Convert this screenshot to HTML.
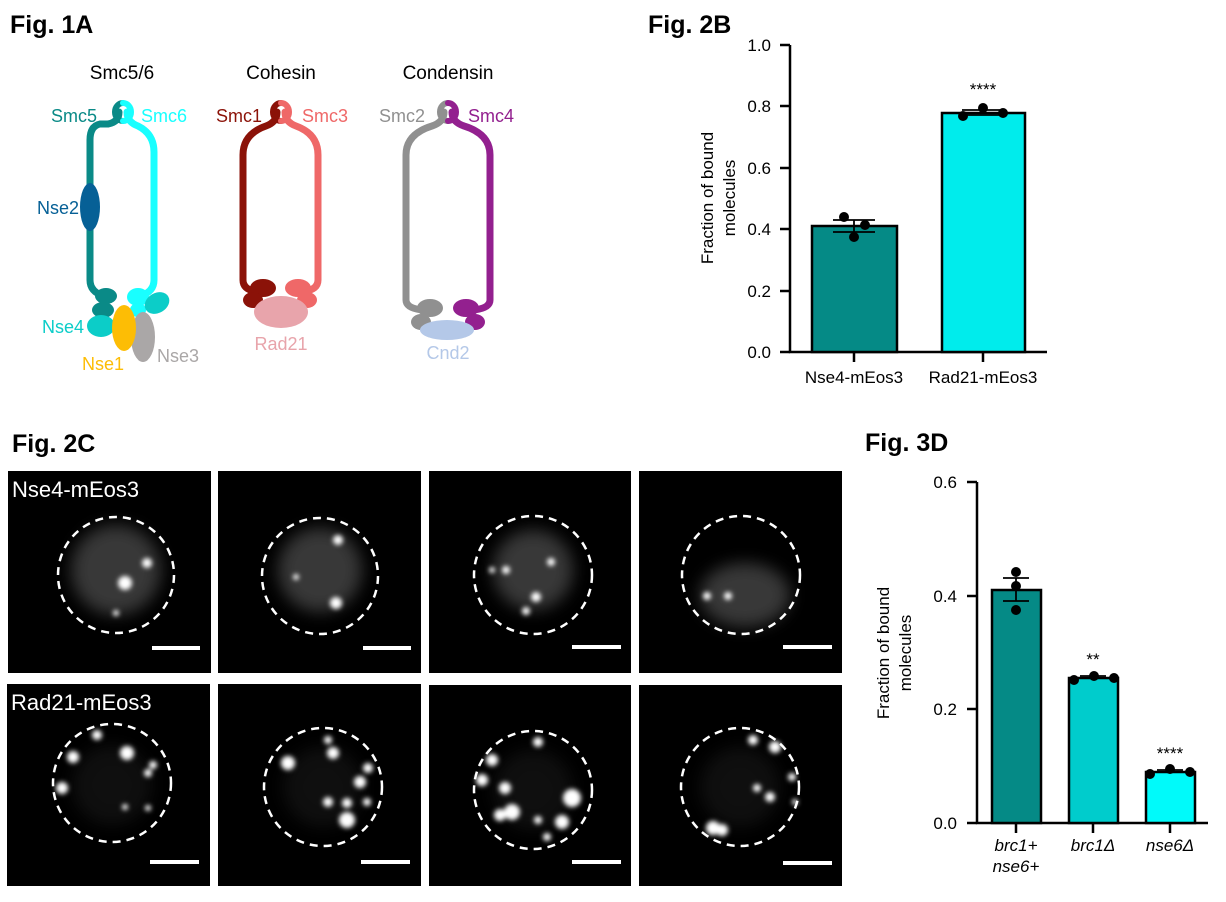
<!DOCTYPE html>
<html><head><meta charset="utf-8"><style>
html,body{margin:0;padding:0;background:#fff;}
svg{display:block;font-family:"Liberation Sans",Arial,sans-serif;}
</style></head><body>
<svg width="1226" height="902" viewBox="0 0 1226 902" xmlns="http://www.w3.org/2000/svg">
<defs>
<filter id="b1" x="-50%" y="-50%" width="200%" height="200%"><feGaussianBlur stdDeviation="2.5"/></filter>
<filter id="b2" x="-50%" y="-50%" width="200%" height="200%"><feGaussianBlur stdDeviation="8"/></filter>
</defs>
<g font-weight="bold" font-size="25" fill="#000">
<text x="10" y="33">Fig. 1A</text>
<text x="648" y="33">Fig. 2B</text>
<text x="12" y="452">Fig. 2C</text>
<text x="865" y="451">Fig. 3D</text>
</g>

<!-- Fig 1A -->
<g font-size="19" text-anchor="middle">
<text x="122" y="79">Smc5/6</text>
<text x="281" y="79">Cohesin</text>
<text x="448" y="79">Condensin</text>
</g>
<g fill="none" stroke-width="7" stroke-linecap="round">
<path d="M119 112 Q119 122 108 124 L100 124 Q90 126 90 140 L90 280 Q90 292 104 296" stroke="#0a8a87"/>
<path d="M127 112 Q127 122 138 126 Q154 134 154 152 L154 280 Q154 292 140 296" stroke="#19ffff"/>
<path d="M123 103 A8 9 0 0 0 123 121" stroke="#0a8a87" stroke-width="6"/>
<path d="M123 103 A8 9 0 0 1 123 121" stroke="#19ffff" stroke-width="6"/>
<path d="M277 112 Q277 122 266 126 Q243 134 243 155 L243 280 Q243 290 258 292" stroke="#8b1208"/>
<path d="M285 112 Q285 122 296 126 Q318 134 318 155 L318 280 Q318 290 302 292" stroke="#ef6868"/>
<path d="M281 103 A8 9 0 0 0 281 121" stroke="#8b1208" stroke-width="6"/>
<path d="M281 103 A8 9 0 0 1 281 121" stroke="#ef6868" stroke-width="6"/>
<path d="M444 112 Q444 122 432 126 Q406 134 406 155 L406 300 Q406 308 422 310" stroke="#909090"/>
<path d="M452 112 Q452 122 464 126 Q490 134 490 155 L490 300 Q490 308 474 310" stroke="#93208f"/>
<path d="M448 103 A8 9 0 0 0 448 121" stroke="#909090" stroke-width="6"/>
<path d="M448 103 A8 9 0 0 1 448 121" stroke="#93208f" stroke-width="6"/>
</g>
<ellipse cx="90" cy="207" rx="10" ry="24" fill="#066096"/>
<ellipse cx="106" cy="296" rx="11" ry="8" fill="#0a8a87"/>
<ellipse cx="103" cy="310" rx="11" ry="8" fill="#0a8a87"/>
<ellipse cx="138" cy="297" rx="11" ry="9" fill="#19ffff"/>
<ellipse cx="138" cy="310" rx="8" ry="7" fill="#19ffff"/>
<ellipse cx="157" cy="303" rx="13" ry="10" transform="rotate(-30 157 303)" fill="#0ccdc8"/>
<ellipse cx="101" cy="326" rx="14" ry="11" fill="#0ccdc8"/>
<ellipse cx="143" cy="337" rx="12" ry="25" fill="#aaa7a7"/>
<ellipse cx="124" cy="328" rx="12" ry="23" fill="#fdbd05"/>
<ellipse cx="263" cy="288" rx="13" ry="9" fill="#8b1208"/>
<ellipse cx="253" cy="300" rx="10" ry="8" fill="#8b1208"/>
<ellipse cx="298" cy="288" rx="13" ry="9" fill="#ef6868"/>
<ellipse cx="307" cy="300" rx="10" ry="8" fill="#ef6868"/>
<ellipse cx="281" cy="312" rx="27" ry="16" fill="#e8a4ab"/>
<ellipse cx="430" cy="308" rx="13" ry="9" fill="#909090"/>
<ellipse cx="421" cy="322" rx="10" ry="8" fill="#909090"/>
<ellipse cx="466" cy="308" rx="13" ry="9" fill="#93208f"/>
<ellipse cx="475" cy="322" rx="10" ry="8" fill="#93208f"/>
<ellipse cx="447" cy="330" rx="27" ry="10" fill="#b4c8e8"/>
<g font-size="18">
<text x="97" y="122" text-anchor="end" fill="#0a8a87">Smc5</text>
<text x="141" y="122" fill="#19ffff">Smc6</text>
<text x="79" y="214" text-anchor="end" fill="#066096">Nse2</text>
<text x="84" y="333" text-anchor="end" fill="#0ccdc8">Nse4</text>
<text x="103" y="370" text-anchor="middle" fill="#fdbd05">Nse1</text>
<text x="157" y="362" fill="#aaa7a7">Nse3</text>
<text x="262" y="122" text-anchor="end" fill="#8b1208">Smc1</text>
<text x="302" y="122" fill="#ef6868">Smc3</text>
<text x="281" y="350" text-anchor="middle" fill="#e8a4ab">Rad21</text>
<text x="425" y="122" text-anchor="end" fill="#909090">Smc2</text>
<text x="468" y="122" fill="#93208f">Smc4</text>
<text x="448" y="359" text-anchor="middle" fill="#b4c8e8">Cnd2</text>
</g>

<!-- Fig 2B -->
<g stroke="#000" stroke-width="2.5" fill="none">
<path d="M790 45 V352 H1047"/>
<path d="M780 45 H790 M780 106 H790 M780 168 H790 M780 229 H790 M780 291 H790 M780 352 H790"/>
<path d="M854 352 V362 M983 352 V362"/>
</g>
<rect x="812" y="226" width="85" height="126" fill="#058a86" stroke="#000" stroke-width="2.5"/>
<rect x="942" y="113" width="83" height="239" fill="#00ecec" stroke="#000" stroke-width="2.5"/>
<g stroke="#000" stroke-width="1.8"><path d="M833 220 H875 M833 232 H875 M854 220 V232"/><path d="M962 110 H1004 M962 115 H1004"/></g>
<g fill="#000">
<circle cx="844" cy="217" r="5"/><circle cx="865" cy="225" r="5"/><circle cx="854" cy="237" r="5"/>
<circle cx="963" cy="116" r="5"/><circle cx="983" cy="108" r="5"/><circle cx="1003" cy="113" r="5"/>
</g>
<text x="983" y="95" text-anchor="middle" font-size="17">****</text>
<g font-size="17" text-anchor="end">
<text x="771" y="51">1.0</text><text x="771" y="112">0.8</text><text x="771" y="174">0.6</text>
<text x="771" y="235">0.4</text><text x="771" y="297">0.2</text><text x="771" y="358">0.0</text>
</g>
<g font-size="17" text-anchor="middle">
<text transform="translate(713 198) rotate(-90)">Fraction of bound</text>
<text transform="translate(735 198) rotate(-90)">molecules</text>
<text x="854" y="383">Nse4-mEos3</text><text x="983" y="383">Rad21-mEos3</text>
</g>

<!-- Fig 2C panels -->
<g fill="#000">
<rect x="8" y="471" width="203" height="202"/><rect x="218" y="471" width="203" height="202"/>
<rect x="429" y="471" width="202" height="202"/><rect x="639" y="471" width="203" height="202"/>
<rect x="7" y="684" width="203" height="202"/><rect x="218" y="684" width="203" height="202"/>
<rect x="429" y="685" width="202" height="201"/><rect x="639" y="685" width="203" height="201"/>
</g>
<g fill="#666" filter="url(#b2)" opacity="0.55">
<circle cx="116" cy="570" r="45"/><circle cx="320" cy="570" r="42"/>
<circle cx="533" cy="570" r="40"/><ellipse cx="745" cy="595" rx="45" ry="32"/>
</g>
<g fill="#333" filter="url(#b2)" opacity="0.3">
<circle cx="112" cy="785" r="40"/><circle cx="323" cy="787" r="40"/><circle cx="533" cy="790" r="40"/><circle cx="740" cy="787" r="40"/>
</g>
<g fill="#fff" filter="url(#b1)">
<circle cx="125" cy="583" r="7"/><circle cx="147" cy="563" r="5"/><circle cx="116" cy="613" r="3"/>
<circle cx="338" cy="540" r="5"/><circle cx="336" cy="603" r="6"/><circle cx="296" cy="577" r="3"/>
<circle cx="506" cy="570" r="4"/><circle cx="492" cy="570" r="3"/><circle cx="536" cy="597" r="5"/><circle cx="526" cy="611" r="4"/><circle cx="551" cy="562" r="4"/>
<circle cx="707" cy="596" r="4"/><circle cx="728" cy="596" r="4"/>
<!-- row 2 -->
<circle cx="97" cy="735" r="5"/><circle cx="73" cy="757" r="6"/><circle cx="62" cy="788" r="6"/><circle cx="127" cy="753" r="7"/><circle cx="153" cy="765" r="4"/><circle cx="148" cy="773" r="4"/><circle cx="125" cy="807" r="3"/><circle cx="148" cy="808" r="3"/>
<circle cx="288" cy="763" r="7"/><circle cx="333" cy="753" r="6"/><circle cx="328" cy="740" r="4"/><circle cx="360" cy="782" r="6"/><circle cx="368" cy="768" r="5"/><circle cx="328" cy="802" r="5"/><circle cx="347" cy="803" r="5"/><circle cx="347" cy="820" r="8"/><circle cx="367" cy="802" r="4"/>
<circle cx="492" cy="760" r="6"/><circle cx="482" cy="780" r="6"/><circle cx="505" cy="788" r="6"/><circle cx="512" cy="812" r="8"/><circle cx="500" cy="815" r="6"/><circle cx="572" cy="798" r="9"/><circle cx="562" cy="822" r="7"/><circle cx="538" cy="742" r="5"/><circle cx="547" cy="837" r="4"/><circle cx="538" cy="820" r="4"/>
<circle cx="753" cy="740" r="5"/><circle cx="775" cy="747" r="6"/><circle cx="792" cy="777" r="4"/><circle cx="757" cy="788" r="4"/><circle cx="770" cy="797" r="5"/><circle cx="713" cy="828" r="7"/><circle cx="722" cy="830" r="6"/><circle cx="795" cy="802" r="3"/>
</g>
<g fill="none" stroke="#fff" stroke-width="2.5" stroke-dasharray="8 6">
<circle cx="116" cy="575" r="58"/><circle cx="320" cy="576" r="58"/><circle cx="533" cy="575" r="59"/><circle cx="741" cy="575" r="59"/>
<circle cx="112" cy="783" r="59"/><circle cx="323" cy="787" r="59"/><circle cx="533" cy="790" r="59"/><circle cx="740" cy="787" r="59"/>
</g>
<g stroke="#fff" stroke-width="4">
<path d="M152 648 H200 M363 648 H411 M572 647 H621 M783 647 H832"/>
<path d="M150 862 H199 M361 862 H410 M572 862 H621 M783 863 H832"/>
</g>
<g fill="#fff" font-size="22">
<text x="12" y="497">Nse4-mEos3</text>
<text x="11" y="710">Rad21-mEos3</text>
</g>

<!-- Fig 3D -->
<g stroke="#000" stroke-width="2.5" fill="none">
<path d="M977 482 V823 H1208"/>
<path d="M967 482 H977 M967 596 H977 M967 709 H977 M967 823 H977"/>
<path d="M1016 823 V833 M1093 823 V833 M1170 823 V833"/>
</g>
<rect x="992" y="590" width="49" height="233" fill="#058a86" stroke="#000" stroke-width="2.5"/>
<rect x="1069" y="678" width="49" height="145" fill="#00cccc" stroke="#000" stroke-width="2.5"/>
<rect x="1146" y="772" width="49" height="51" fill="#00fafa" stroke="#000" stroke-width="2.5"/>
<g stroke="#000" stroke-width="1.8"><path d="M1003 578 H1029 M1003 601 H1029 M1016 578 V601"/><path d="M1080 676 H1106"/><path d="M1157 770 H1183"/></g>
<g fill="#000">
<circle cx="1016" cy="572" r="5"/><circle cx="1016" cy="586" r="5"/><circle cx="1016" cy="610" r="5"/>
<circle cx="1074" cy="680" r="5"/><circle cx="1094" cy="676" r="5"/><circle cx="1114" cy="678" r="5"/>
<circle cx="1150" cy="774" r="5"/><circle cx="1170" cy="769" r="5"/><circle cx="1190" cy="772" r="5"/>
</g>
<g font-size="17" text-anchor="middle">
<text x="1093" y="665">**</text><text x="1170" y="759">****</text>
</g>
<g font-size="17" text-anchor="end">
<text x="957" y="488">0.6</text><text x="957" y="602">0.4</text><text x="957" y="715">0.2</text><text x="957" y="829">0.0</text>
</g>
<g font-size="17" text-anchor="middle">
<text transform="translate(889 653) rotate(-90)">Fraction of bound</text>
<text transform="translate(911 653) rotate(-90)">molecules</text>
</g>
<g font-size="17" text-anchor="middle" font-style="italic">
<text x="1016" y="851">brc1+</text><text x="1016" y="872">nse6+</text>
<text x="1093" y="851">brc1Δ</text><text x="1170" y="851">nse6Δ</text>
</g>
</svg>
</body></html>
